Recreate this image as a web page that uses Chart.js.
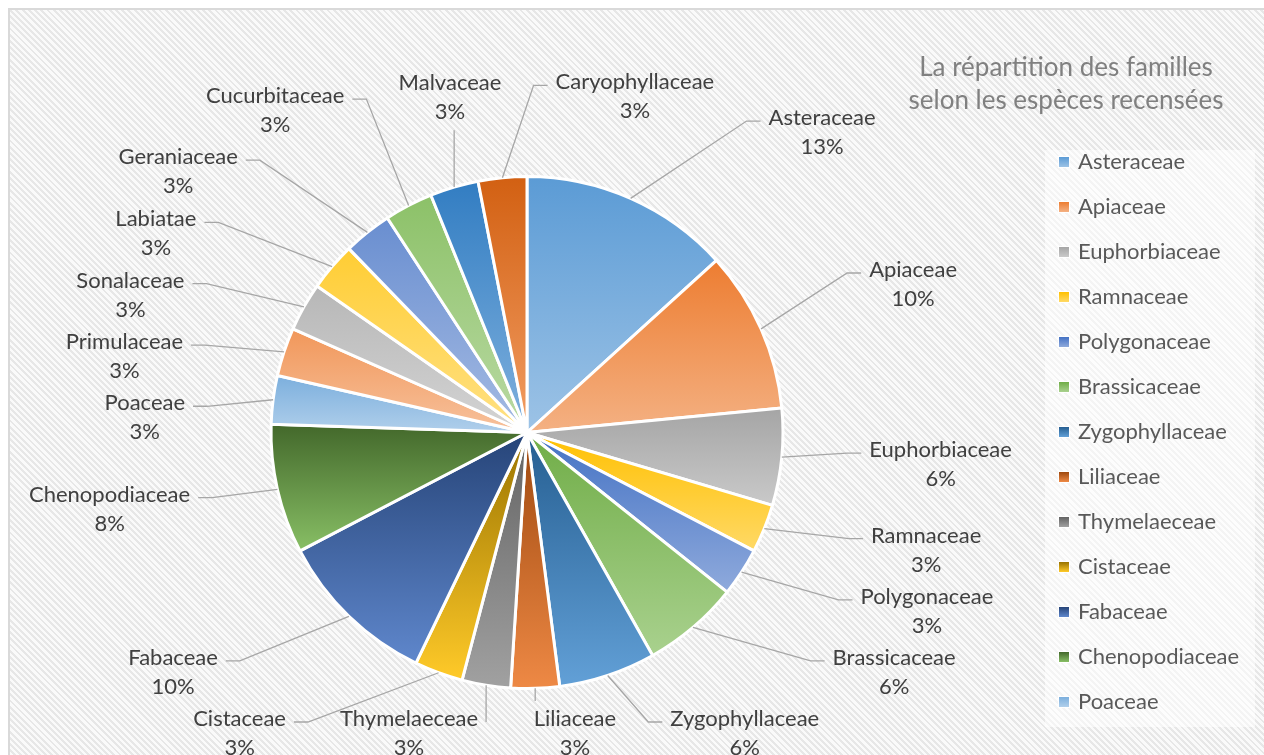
<!DOCTYPE html>
<html lang="fr">
<head>
<meta charset="utf-8">
<title>Répartition des familles</title>
<script src="https://cdn.jsdelivr.net/npm/chart.js@4.4.1/dist/chart.umd.min.js"></script>
<style>
  html, body { margin: 0; padding: 0; background: #fff; overflow: hidden; }
  .frame {
    position: absolute; left: 8px; top: 8px; width: 1280px; height: 770px;
    border: 2px solid #d9d9d9;
    background: repeating-linear-gradient(45deg, #fafafa 0, #fafafa 2.4px, #e7e7e7 2.4px, #e7e7e7 4.4px);
  }
  #chart { position: absolute; left: 0; top: 0; }
</style>
</head>
<body>
<div class="frame"></div>
<canvas id="chart" width="1264" height="755"></canvas>
<script>
const families = [
  'Asteraceae', 'Apiaceae', 'Euphorbiaceae', 'Ramnaceae', 'Polygonaceae',
  'Brassicaceae', 'Zygophyllaceae', 'Liliaceae', 'Thymelaeceae', 'Cistaceae',
  'Fabaceae', 'Chenopodiaceae', 'Poaceae', 'Primulaceae', 'Sonalaceae',
  'Labiatae', 'Geraniaceae', 'Cucurbitaceae', 'Malvaceae', 'Caryophyllaceae'
];
const shares = [13, 10, 6, 3, 3, 6, 6, 3, 3, 3, 10, 8, 3, 3, 3, 3, 3, 3, 3, 3];
const sliceColors = [
  '#5B9BD5', '#ED7D31', '#A5A5A5', '#FFC000', '#4472C4', '#70AD47',
  '#255E91', '#9E480E', '#636363', '#997300', '#264478', '#43682B',
  '#7CAFDD', '#F1975A', '#B7B7B7', '#FFCD33', '#698ED0', '#8CC168',
  '#327DC2', '#D26012'
];
const titleLines = ['La répartition des familles', 'selon les espèces recensées'];

const FONT_FAMILY = 'Lato, "Open Sans", sans-serif';
const LABEL_FONT = '22px ' + FONT_FAMILY;
const LINE_H = 29;

// lighten a colour by moving its HSL lightness towards white
function lighten(hex, amt) {
  const n = parseInt(hex.slice(1), 16);
  const r = (n >> 16 & 255) / 255, g = (n >> 8 & 255) / 255, b = (n & 255) / 255;
  const max = Math.max(r, g, b), min = Math.min(r, g, b);
  let h = 0, s = 0, l = (max + min) / 2;
  if (max !== min) {
    const d = max - min;
    s = l > 0.5 ? d / (2 - max - min) : d / (max + min);
    if (max === r) h = (g - b) / d + (g < b ? 6 : 0);
    else if (max === g) h = (b - r) / d + 2;
    else h = (r - g) / d + 4;
    h /= 6;
  }
  l = l + (1 - l) * amt;
  const hue2rgb = (p, q, t) => {
    if (t < 0) t += 1;
    if (t > 1) t -= 1;
    if (t < 1 / 6) return p + (q - p) * 6 * t;
    if (t < 1 / 2) return q;
    if (t < 2 / 3) return p + (q - p) * (2 / 3 - t) * 6;
    return p;
  };
  let R, G, B;
  if (s === 0) { R = G = B = l; } else {
    const q = l < 0.5 ? l * (1 + s) : l + s - l * s, p = 2 * l - q;
    R = hue2rgb(p, q, h + 1 / 3); G = hue2rgb(p, q, h); B = hue2rgb(p, q, h - 1 / 3);
  }
  return `rgb(${Math.round(R * 255)},${Math.round(G * 255)},${Math.round(B * 255)})`;
}

function verticalGradient(ctx, color, top, bottom) {
  const g = ctx.createLinearGradient(0, top, 0, bottom);
  g.addColorStop(0, color);
  g.addColorStop(1, lighten(color, 0.4));
  return g;
}

// vertical extent of a pie sector
function sectorBounds(arc) {
  const { x, y, startAngle, endAngle, outerRadius: r } = arc;
  const ys = [y, y + r * Math.sin(startAngle), y + r * Math.sin(endAngle)];
  for (let k = -1; k <= 1; k++) {
    const a = Math.PI / 2 + k * Math.PI;
    if (a > startAngle && a < endAngle) ys.push(y + r * Math.sin(a));
  }
  return { top: Math.min(...ys), bottom: Math.max(...ys) };
}

const sliceGradients = {
  id: 'sliceGradients',
  beforeDatasetsDraw(chart) {
    const ctx = chart.ctx;
    chart.getDatasetMeta(0).data.forEach((arc, i) => {
      const b = sectorBounds(arc);
      arc.options.backgroundColor = verticalGradient(ctx, sliceColors[i], b.top, b.bottom);
    });
  }
};

// two-line labels around the pie, spread apart so they don't collide, with leader lines
const outsideLabels = {
  id: 'outsideLabels',
  afterDatasetsDraw(chart) {
    const ctx = chart.ctx;
    const arcs = chart.getDatasetMeta(0).data;
    const cx = arcs[0].x, cy = arcs[0].y, r = arcs[0].outerRadius;
    const rx = r * 1.3, ry = r * 1.18;
    const CORNER = 0.2;    // labels sit a little further out towards the diagonals
    const bounds = { left: 20, right: 1035, top: 55, bottom: 764 };
    const SPREAD_X = 36;   // extra horizontal room kept between neighbouring labels

    ctx.save();
    ctx.font = LABEL_FONT;
    const items = arcs.map((arc, i) => {
      const mid = (arc.startAngle + arc.endAngle) / 2;
      const t1 = families[i], t2 = shares[i] + '%';
      const w1 = ctx.measureText(t1).width, w2 = ctx.measureText(t2).width;
      return { mid, ang: mid, t1, t2, w1, w2, w: Math.max(w1, w2) + 18, h: LINE_H * 2 + 3 };
    });
    const place = it => {
      const c = Math.cos(it.ang), s = Math.sin(it.ang);
      const f = 1 + CORNER * Math.pow(Math.sin(2 * it.ang), 2);
      const x = cx + rx * f * c + it.w / 2 * c;
      const y = cy + ry * f * s + it.h / 2 * s;
      it.x = Math.min(Math.max(x, bounds.left + it.w / 2), bounds.right - it.w / 2);
      it.y = Math.min(Math.max(y, bounds.top + it.h / 2), bounds.bottom - it.h / 2);
    };
    const overlap = (a, b) =>
      Math.abs(a.x - b.x) < (a.w + b.w) / 2 + SPREAD_X && Math.abs(a.y - b.y) < (a.h + b.h) / 2;
    const n = items.length;
    for (let iter = 0; iter < 5000; iter++) {
      items.forEach(place);
      let moved = false;
      for (let i = 0; i < n; i++) {
        for (let k = 1; k <= 3; k++) {
          const a = items[i], b = items[(i + k) % n];
          if (overlap(a, b)) { a.ang -= 0.002; b.ang += 0.002; moved = true; }
        }
      }
      if (!moved) break;
    }

    // leader lines
    const GAP = 8, ELBOW = 14;
    ctx.strokeStyle = '#a6a6a6';
    ctx.lineWidth = 1.3;
    items.forEach(it => {
      const ex = cx + r * Math.cos(it.mid), ey = cy + r * Math.sin(it.mid);
      const y1 = it.y - LINE_H / 2 + 3, y2 = it.y + LINE_H / 2 + 3;
      const l1 = it.x - it.w1 / 2, r1 = it.x + it.w1 / 2;
      const l2 = it.x - it.w2 / 2, r2 = it.x + it.w2 / 2;
      const toLeft = (lx, ly) => ex < lx - GAP - ELBOW
        ? [[ex, ey], [lx - GAP - ELBOW, ly], [lx - GAP, ly]] : [[ex, ey], [lx - GAP, ly]];
      const toRight = (rx2, ly) => ex > rx2 + GAP + ELBOW
        ? [[ex, ey], [rx2 + GAP + ELBOW, ly], [rx2 + GAP, ly]] : [[ex, ey], [rx2 + GAP, ly]];
      let pts;
      if (ex < l1 - GAP) pts = toLeft(l1, y1);
      else if (ex > r1 + GAP) pts = toRight(r1, y1);
      else if (ey > it.y) {
        if (ex < l2 - GAP) pts = toLeft(l2, y2);
        else if (ex > r2 + GAP) pts = toRight(r2, y2);
        else pts = [[ex, ey], [ex, it.y + it.h / 2 + 2]];
      } else pts = [[ex, ey], [ex, it.y - it.h / 2 - 2]];
      ctx.beginPath();
      pts.forEach((p, j) => j ? ctx.lineTo(p[0], p[1]) : ctx.moveTo(p[0], p[1]));
      ctx.stroke();
    });

    ctx.fillStyle = '#404040';
    ctx.textAlign = 'center';
    ctx.textBaseline = 'middle';
    items.forEach(it => {
      ctx.fillText(it.t1, it.x, it.y - LINE_H / 2);
      ctx.fillText(it.t2, it.x, it.y + LINE_H / 2);
    });
    ctx.restore();
  }
};

// title and legend on the right-hand side
const legendBox = { left: 1045, top: 150, right: 1255, bottom: 727 };
const LEGEND_STEP = 45;

const sidePanel = {
  id: 'sidePanel',
  afterDraw(chart) {
    const ctx = chart.ctx;
    ctx.save();
    ctx.font = '26px ' + FONT_FAMILY;
    ctx.fillStyle = '#808080';
    ctx.textAlign = 'center';
    ctx.textBaseline = 'middle';
    titleLines.forEach((t, i) => ctx.fillText(t, 1066, 68 + i * 33));

    ctx.fillStyle = 'rgba(255,255,255,0.55)';
    ctx.fillRect(legendBox.left, legendBox.top,
      legendBox.right - legendBox.left, legendBox.bottom - legendBox.top);

    ctx.font = LABEL_FONT;
    ctx.textAlign = 'left';
    for (let i = 0; i < families.length; i++) {
      const y = legendBox.top + 12 + i * LEGEND_STEP;
      if (y + 12 > legendBox.bottom) break;
      const mx = legendBox.left + 14;
      ctx.fillStyle = '#fff';
      ctx.fillRect(mx - 1, y - 6, 12, 12);
      ctx.fillStyle = verticalGradient(ctx, sliceColors[i], y - 5, y + 5);
      ctx.fillRect(mx, y - 5, 10, 10);
      ctx.fillStyle = '#595959';
      ctx.fillText(families[i], mx + 19, y);
    }
    ctx.restore();
  }
};

new Chart(document.getElementById('chart'), {
  type: 'pie',
  data: {
    labels: families,
    datasets: [{
      data: shares,
      backgroundColor: sliceColors,
      borderColor: '#ffffff',
      borderWidth: 3
    }]
  },
  options: {
    responsive: false,
    devicePixelRatio: 1,
    animation: false,
    events: [],
    layout: { padding: { left: 0, right: 210, top: 175, bottom: 65 } },
    plugins: {
      legend: { display: false },
      tooltip: { enabled: false },
      title: { display: false }
    }
  },
  plugins: [sliceGradients, outsideLabels, sidePanel]
});
</script>
</body>
</html>
